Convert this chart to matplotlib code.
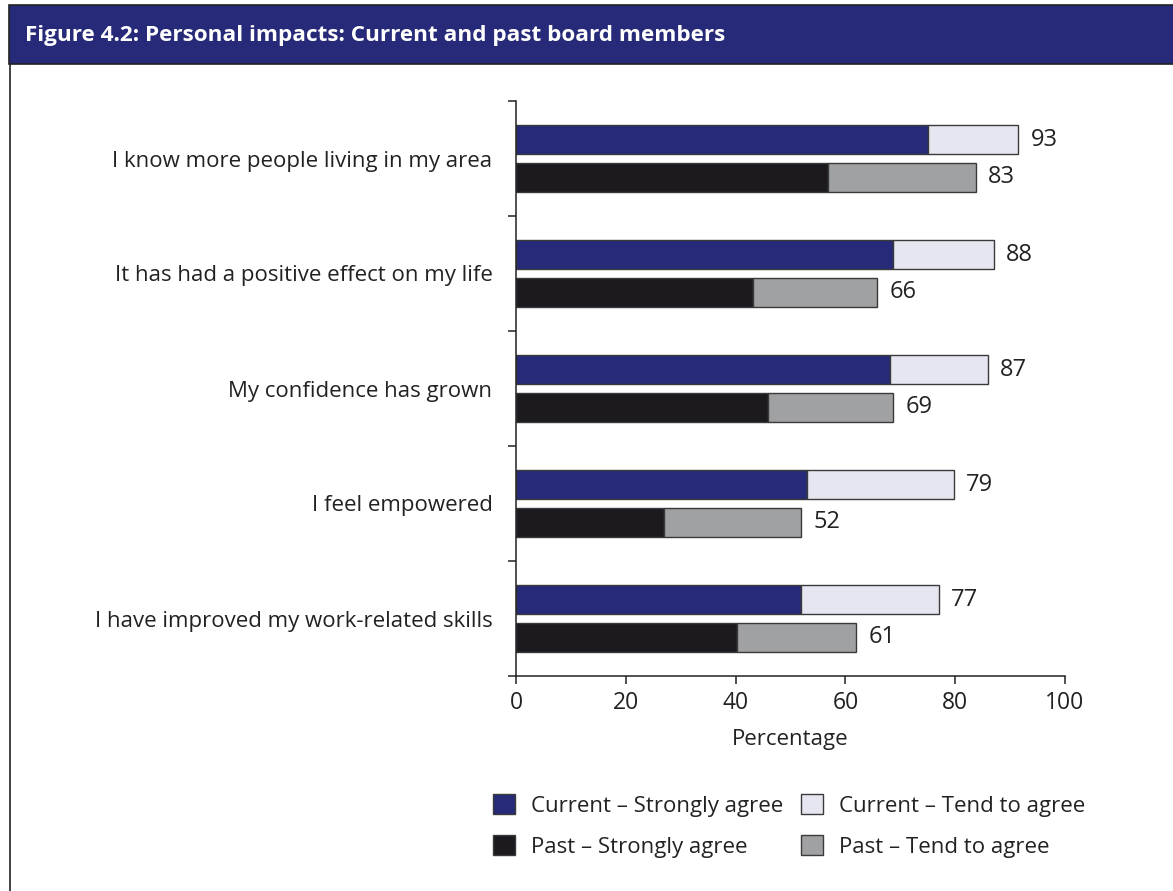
#!/usr/bin/env python3
"""Figure 4.2: Personal impacts - current and past board members (stacked bars)."""

import numpy as np
import matplotlib.pyplot as plt
from matplotlib.patches import Patch, Rectangle
from matplotlib.lines import Line2D

plt.rcParams['font.family'] = ['Open Sans', 'DejaVu Sans']

CATEGORIES = [
    'I know more people living in my area',
    'It has had a positive effect on my life',
    'My confidence has grown',
    'I feel empowered',
    'I have improved my work-related skills',
]
CURRENT_STRONG = [75, 68.7, 68.1, 53, 51.9]
CURRENT_TEND = [16.5, 18.4, 17.8, 26.8, 25.1]
PAST_STRONG = [56.9, 43.1, 45.9, 26.9, 40.2]
PAST_TEND = [26.8, 22.7, 22.8, 25.0, 21.8]
CURRENT_LABELS = [93, 88, 87, 79, 77]
PAST_LABELS = [83, 66, 69, 52, 61]

NAVY = '#262a78'
LAVENDER = '#e6e6f0'
DARK = '#1c1a1f'
GREY = '#a0a1a3'
EDGE = '#3a3a3a'
TXT = '#222222'

fig = plt.figure(figsize=(11.73, 8.91), dpi=100)

# header band and left frame line
fig.patches.append(Rectangle((9 / 1173, 1 - 64 / 891), 1, 59 / 891,
                             transform=fig.transFigure, facecolor=NAVY,
                             edgecolor=TXT, linewidth=1.2))
fig.lines.append(Line2D([9.5 / 1173, 9.5 / 1173], [0, 1 - 64 / 891],
                        transform=fig.transFigure, color=TXT, linewidth=1.2))
fig.text(25 / 1173, 1 - 35 / 891,
         'Figure 4.2: Personal impacts: Current and past board members',
         color='white', fontsize=16.2, fontweight='bold', va='center', ha='left')

ax = fig.add_axes([516 / 1173, 1 - 676 / 891, 549 / 1173, 575 / 891])

y = np.arange(len(CATEGORIES))
off = 0.165
h = 0.255
bar_kw = dict(height=h, edgecolor=EDGE, linewidth=1.0)

ax.barh(y - off, CURRENT_STRONG, color=NAVY, **bar_kw)
ax.barh(y - off, CURRENT_TEND, left=CURRENT_STRONG, color=LAVENDER, **bar_kw)
ax.barh(y + off, PAST_STRONG, color=DARK, **bar_kw)
ax.barh(y + off, PAST_TEND, left=PAST_STRONG, color=GREY, **bar_kw)

cur_tot = np.array(CURRENT_STRONG) + np.array(CURRENT_TEND)
past_tot = np.array(PAST_STRONG) + np.array(PAST_TEND)
for i in range(len(CATEGORIES)):
    ax.text(cur_tot[i] + 2.2, y[i] - off, str(CURRENT_LABELS[i]),
            va='center', ha='left', fontsize=17, color=TXT)
    ax.text(past_tot[i] + 2.2, y[i] + off, str(PAST_LABELS[i]),
            va='center', ha='left', fontsize=17, color=TXT)

ax.set_xlim(0, 100)
ax.set_ylim(len(CATEGORIES) - 0.5, -0.5)
ax.set_xticks(range(0, 101, 20))
ax.tick_params(axis='x', labelsize=16.5, length=6, width=1.1, colors=TXT, pad=5)
ax.set_yticks(y)
ax.set_yticklabels(CATEGORIES, fontsize=16, color=TXT)
ax.set_yticks(np.arange(-0.5, len(CATEGORIES)), minor=True)
ax.tick_params(axis='y', which='major', length=0, pad=17)
ax.tick_params(axis='y', which='minor', length=6, width=1.1, color=TXT)
ax.set_xlabel('Percentage', fontsize=16, color=TXT, labelpad=10)

for side in ('top', 'right'):
    ax.spines[side].set_visible(False)
for side in ('left', 'bottom'):
    ax.spines[side].set_linewidth(1.1)
    ax.spines[side].set_color(TXT)

handles = [
    Patch(facecolor=NAVY, edgecolor=EDGE, label='Current – Strongly agree'),
    Patch(facecolor=DARK, edgecolor=EDGE, label='Past – Strongly agree'),
    Patch(facecolor=LAVENDER, edgecolor=EDGE, label='Current – Tend to agree'),
    Patch(facecolor=GREY, edgecolor=EDGE, label='Past – Tend to agree'),
]
fig.legend(handles=handles, ncol=2, loc='upper left',
           bbox_to_anchor=(493 / 1173, 1 - 794 / 891), frameon=False,
           borderpad=0, borderaxespad=0,
           fontsize=16, handlelength=1.0, handleheight=1.0,
           handletextpad=0.7, columnspacing=0.8, labelspacing=0.85,
           labelcolor=TXT)

fig.savefig('out.png', dpi=100)
